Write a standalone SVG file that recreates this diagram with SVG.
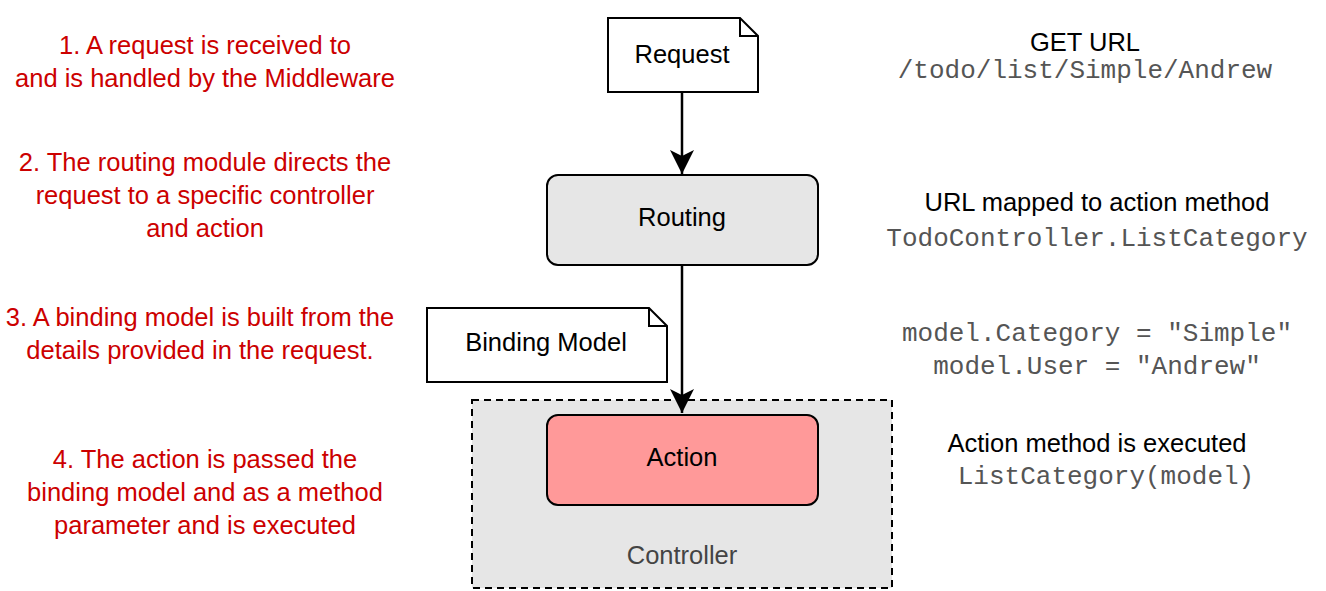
<svg xmlns="http://www.w3.org/2000/svg" width="1326" height="591" viewBox="0 0 1326 591">
<defs>
<marker id="ah" markerWidth="26" markerHeight="26" refX="24" refY="13" orient="auto" markerUnits="userSpaceOnUse"><path d="M0,1 L24,13 L0,25 L6,13 Z" fill="#000"/></marker>
<style>
.r{font-family:"Liberation Sans",Arial,sans-serif;font-size:25.5px;fill:#cc0000;text-anchor:middle}
.s{font-family:"Liberation Sans",Arial,sans-serif;font-size:25.5px;fill:#000;text-anchor:middle}
.m{font-family:"Liberation Mono","Courier New",monospace;font-size:26px;fill:#555;text-anchor:middle}
.n{stroke:#000;stroke-width:2}
</style>
</defs>
<rect width="1326" height="591" fill="#fff"/>
<g id="controller"><rect x="472" y="400" width="420" height="188" fill="#e6e6e6" stroke="#000" stroke-width="2" stroke-dasharray="7,5"/><text class="s" x="682" y="564" style="fill:#444">Controller</text></g>
<g id="connectors" stroke="#000" stroke-width="2.5" fill="none">
<line x1="682" y1="92" x2="682" y2="174" marker-end="url(#ah)"/>
<line x1="682" y1="265" x2="682" y2="413" marker-end="url(#ah)"/>
</g>
<g id="request"><path class="n" d="M608,18 H740 L758,36 V92 H608 Z" fill="#fff"/><path class="n" d="M740,18 V36 H758" fill="none"/><text class="s" x="682" y="63">Request</text></g>
<g id="routing"><rect class="n" x="547" y="175" width="271" height="90" rx="11" fill="#e6e6e6"/><text class="s" x="682" y="226">Routing</text></g>
<g id="binding"><path class="n" d="M427,308 H649 L667,326 V382 H427 Z" fill="#fff"/><path class="n" d="M649,308 V326 H667" fill="none"/><text class="s" x="546" y="351">Binding Model</text></g>
<g id="action"><rect class="n" x="547" y="415" width="271" height="90" rx="11" fill="#ff9999"/><text class="s" x="682" y="466">Action</text></g>
<g id="notes">
<text class="r" x="205" y="54">1. A request is received to</text>
<text class="r" x="205" y="87">and is handled by the Middleware</text>
<text class="r" x="205" y="171">2. The routing module directs the</text>
<text class="r" x="205" y="204">request to a specific controller</text>
<text class="r" x="205" y="237">and action</text>
<text class="r" x="200" y="326">3. A binding model is built from the</text>
<text class="r" x="200" y="359">details provided in the request.</text>
<text class="r" x="205" y="468">4. The action is passed the</text>
<text class="r" x="205" y="501">binding model and as a method</text>
<text class="r" x="205" y="534">parameter and is executed</text>
<text class="s" x="1085" y="51">GET URL</text>
<text class="m" x="1085" y="78">/todo/list/Simple/Andrew</text>
<text class="s" x="1097" y="211">URL mapped to action method</text>
<text class="m" x="1097" y="246">TodoController.ListCategory</text>
<text class="m" x="1097" y="341">model.Category = "Simple"</text>
<text class="m" x="1097" y="374">model.User = "Andrew"</text>
<text class="s" x="1097" y="452">Action method is executed</text>
<text class="m" x="1106" y="484">ListCategory(model)</text>
</g>
</svg>
